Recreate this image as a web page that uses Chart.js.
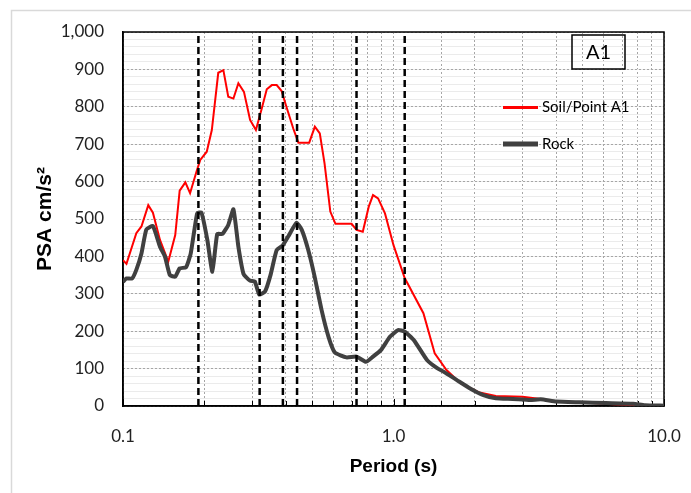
<!DOCTYPE html>
<html>
<head>
<meta charset="utf-8">
<script src="https://cdn.jsdelivr.net/npm/chart.js@4.4.1/dist/chart.umd.min.js"></script>
<style>
  html, body { margin: 0; padding: 0; background: #fff; }
  #wrap { width: 691px; height: 493px; }
</style>
</head>
<body>
<div id="wrap"><canvas id="chart" width="691" height="493"></canvas></div>
<script>
// periods (s) and PSA (cm/s2)
const soilPeriod = [0.1, 0.103, 0.112, 0.117, 0.124, 0.129, 0.137, 0.147, 0.156, 0.162, 0.17, 0.177, 0.187, 0.193,
  0.204, 0.213, 0.225, 0.235, 0.245, 0.256, 0.267, 0.28, 0.295, 0.31, 0.326, 0.34, 0.355, 0.37, 0.386, 0.40,
  0.426, 0.445, 0.488, 0.512, 0.534, 0.556, 0.584, 0.61, 0.70, 0.73, 0.77, 0.81, 0.84, 0.877, 0.93, 1.0,
  1.10, 1.29, 1.42, 1.57, 1.77, 2.08, 2.39, 3.0, 3.38, 4.0, 4.87, 6.5, 7.9, 10];
const soilPSA = [390, 380, 462, 480, 537, 517, 444, 386, 457, 576, 598, 569, 627, 658,
  680, 738, 891, 898, 827, 822, 863, 840, 765, 738, 796, 847, 858, 858, 842, 805,
  742, 704, 704, 747, 729, 649, 520, 487, 487, 471, 466, 533, 564, 555, 515, 430,
  342, 248, 141, 96, 61, 36, 27, 25, 20, 12, 10, 5, 2, 1];

const rockPeriod = [0.1, 0.103, 0.108, 0.112, 0.117, 0.122, 0.129, 0.137, 0.143, 0.149, 0.156, 0.162, 0.171, 0.178,
  0.188, 0.195, 0.205, 0.214, 0.223, 0.233, 0.245, 0.256, 0.267, 0.279, 0.295, 0.307, 0.319, 0.335, 0.351,
  0.37, 0.39, 0.408, 0.438, 0.458, 0.484, 0.511, 0.542, 0.575, 0.607, 0.67, 0.73, 0.79, 0.84, 0.90, 0.97,
  1.04, 1.10, 1.19, 1.33, 1.45, 1.53, 1.71, 1.92, 2.15, 2.39, 2.76, 3.2, 3.5, 4.0, 4.87, 6.1, 7.7, 8.5, 10];
const rockPSA = [332, 341, 341, 364, 408, 472, 481, 426, 399, 350, 346, 368, 371, 408,
  515, 517, 444, 359, 460, 460, 484, 526, 426, 353, 335, 333, 298, 306, 350,
  417, 430, 453, 490, 471, 417, 346, 257, 185, 143, 130, 132, 118, 132, 150, 185,
  203, 199, 176, 123, 101, 92, 70, 47, 29, 21, 19, 16, 18, 12, 10, 8, 6, 2, 1];

// dashed reference periods
const markerPeriods = [0.19, 0.32, 0.39, 0.44, 0.73, 1.10];

const xLabelTicks = [0.1, 1, 10];
const yMax = 1000;
const panelLabel = 'A1';

const toPoints = (xs, ys) => xs.map((x, i) => ({ x, y: ys[i] }));

const markerSets = markerPeriods.map(p => ({
  label: '',
  data: [{ x: p, y: 0 }, { x: p, y: yMax }],
  borderColor: '#000',
  borderWidth: 2.5,
  borderDash: [7, 4],
  pointRadius: 0,
  order: 0
}));

const frame = {
  id: 'frame',
  beforeDraw(chart) {
    const { ctx } = chart;
    ctx.save();
    ctx.fillStyle = '#fff';
    ctx.fillRect(0, 0, chart.width, chart.height);
    ctx.strokeStyle = '#d9d9d9';
    ctx.lineWidth = 1.5;
    ctx.strokeRect(11.5, 10.5, chart.width, chart.height);
    ctx.restore();
  },
  beforeDatasetsDraw(chart) {
    const { ctx, chartArea: a, scales } = chart;
    ctx.save();
    // small inward tick marks on the period axis
    ctx.strokeStyle = '#000';
    ctx.lineWidth = 1;
    scales.x.ticks.forEach(t => {
      const px = Math.round(scales.x.getPixelForValue(t.value)) + 0.5;
      const len = xLabelTicks.includes(t.value) ? 7 : 5;
      ctx.beginPath();
      ctx.moveTo(px, a.bottom);
      ctx.lineTo(px, a.bottom - len);
      ctx.stroke();
    });
    ctx.lineWidth = 1.5;
    ctx.strokeRect(a.left, a.top, a.right - a.left, a.bottom - a.top);
    ctx.restore();
  },
  afterDraw(chart) {
    const { ctx } = chart;
    ctx.save();
    // panel label box
    ctx.strokeStyle = '#000';
    ctx.lineWidth = 1.5;
    ctx.strokeRect(572, 35, 53, 34);
    ctx.fillStyle = '#000';
    ctx.font = '20px Lato';
    ctx.textAlign = 'center';
    ctx.textBaseline = 'middle';
    ctx.fillText(panelLabel, 598.5, 52.5);
    // legend
    const items = chart.data.datasets.filter(d => d.legendRow !== undefined);
    ctx.font = '15px Lato';
    ctx.textAlign = 'left';
    items.forEach(d => {
      const y = 107.5 + d.legendRow * 36.5;
      ctx.strokeStyle = d.borderColor;
      ctx.lineWidth = d.borderWidth + 1;
      ctx.beginPath();
      ctx.moveTo(503, y);
      ctx.lineTo(538, y);
      ctx.stroke();
      ctx.fillStyle = '#000';
      ctx.fillText(d.label, 542, y);
    });
    ctx.restore();
  }
};

new Chart(document.getElementById('chart'), {
  type: 'line',
  data: {
    datasets: [
      ...markerSets,
      {
        label: 'Rock',
        data: toPoints(rockPeriod, rockPSA),
        borderColor: '#404040',
        borderWidth: 4,
        pointRadius: 0,
        tension: 0.15,
        order: 1,
        legendRow: 1
      },
      {
        label: 'Soil/Point A1',
        data: toPoints(soilPeriod, soilPSA),
        borderColor: '#ff0000',
        borderWidth: 2,
        pointRadius: 0,
        tension: 0,
        order: 2,
        legendRow: 0
      }
    ]
  },
  options: {
    responsive: false,
    animation: false,
    devicePixelRatio: 1,
    layout: { padding: { left: 0, top: 32, right: 27, bottom: 0 } },
    plugins: { legend: { display: false }, tooltip: { enabled: false } },
    scales: {
      x: {
        type: 'logarithmic',
        min: 0.1,
        max: 10,
        afterFit: s => { s.height = 87; s.paddingLeft = 0; s.paddingRight = 0; },
        grid: { color: '#a6a6a6', lineWidth: 1, drawTicks: false },
        border: { color: '#000', width: 1.5, dash: [2, 2] },
        ticks: {
          autoSkip: false,
          maxRotation: 0,
          padding: 20,
          color: '#222',
          font: { family: 'Lato', size: 17 },
          callback: v => xLabelTicks.includes(v) ? v.toFixed(1) : ''
        },
        title: {
          display: true,
          text: 'Period (s)',
          color: '#000',
          font: { family: 'Liberation Sans', size: 19, weight: 'bold' },
          padding: { top: 0, bottom: 14.6 }
        }
      },
      y: {
        type: 'linear',
        min: 0,
        max: yMax,
        afterFit: s => { s.width = 123; s.paddingTop = 0; s.paddingBottom = 0; },
        grid: { color: '#ebebeb', lineWidth: 1, drawTicks: false },
        border: { color: '#000', width: 1.5 },
        ticks: {
          stepSize: 20,
          autoSkip: false,
          padding: 19,
          color: '#222',
          font: { family: 'Lato', size: 17 },
          callback: v => v % 100 === 0 ? v.toLocaleString('en-US') : ''
        },
        title: {
          display: true,
          text: 'PSA cm/s²',
          color: '#000',
          font: { family: 'Liberation Sans', size: 21, weight: 'bold' },
          padding: { top: 32.4, bottom: 0 }
        }
      },
      yMajor: {
        type: 'linear',
        position: 'left',
        min: 0,
        max: yMax,
        afterFit: s => { s.width = 0; },
        grid: { color: '#a6a6a6', lineWidth: 1, drawTicks: false },
        border: { display: false, dash: [2, 2] },
        ticks: { display: false, stepSize: 100 }
      }
    }
  },
  plugins: [frame]
});
</script>
</body>
</html>
